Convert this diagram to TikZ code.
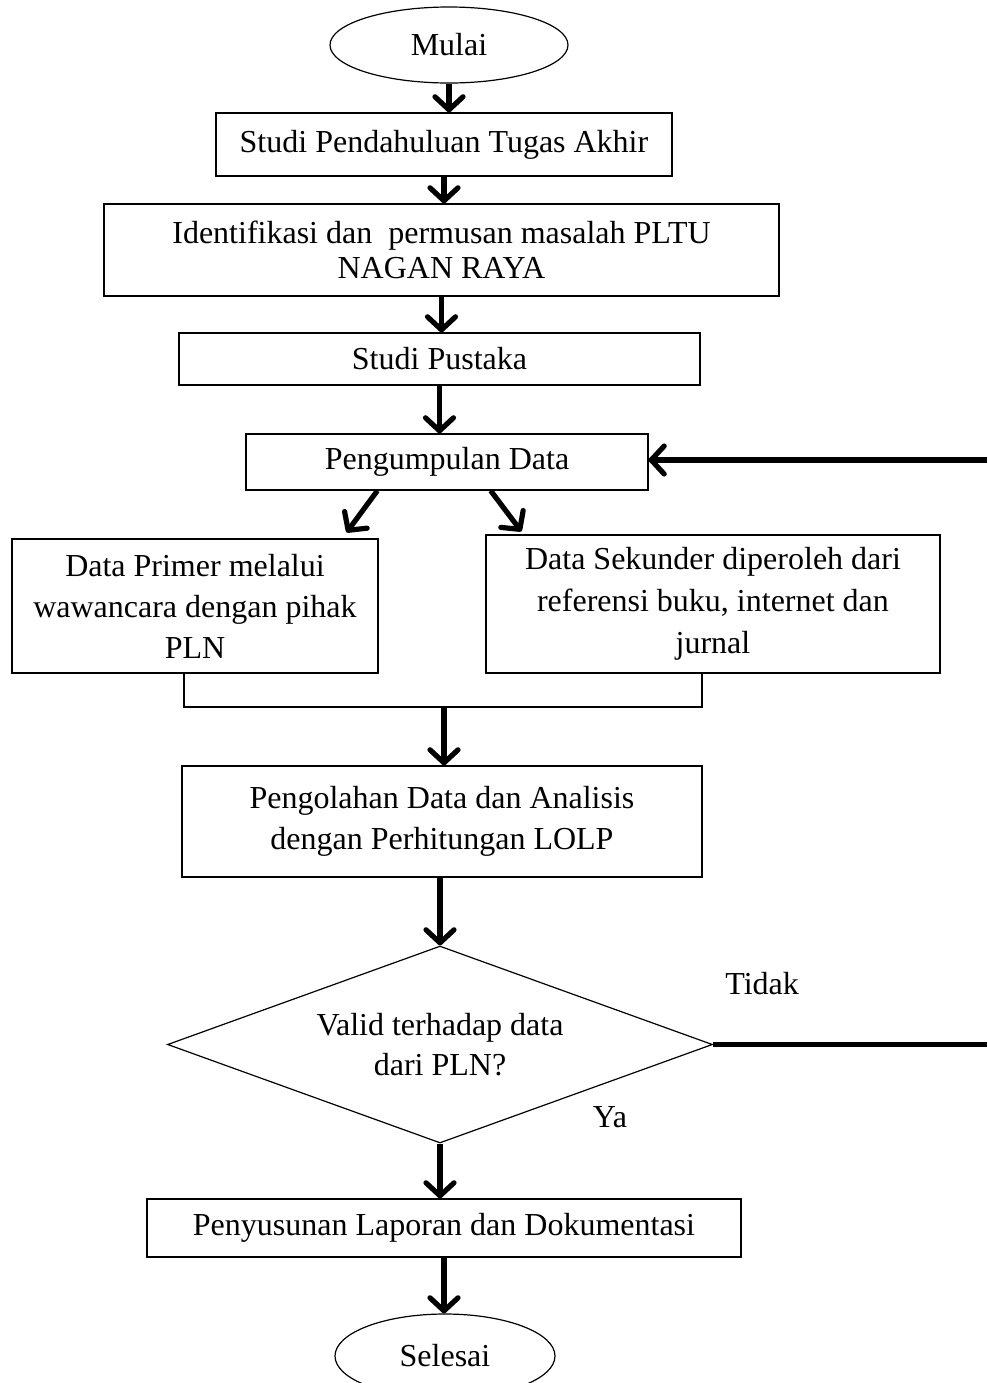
\documentclass[tikz,border=0pt]{standalone}
\usepackage{fontspec}
\setmainfont{Liberation Serif}
\usetikzlibrary{shapes.geometric, arrows.meta}

\begin{document}
\begin{tikzpicture}[x=0.5pt, y=-0.5pt, line width=0.6pt,
  box/.style={rectangle, draw=black, align=center, inner sep=0,
    font=\fontsize{16}{20.5}\selectfont},
  term/.style={ellipse, draw=black, inner sep=0,
    font=\fontsize{16}{20.5}\selectfont},
  cond/.style={diamond, draw=black, align=center, inner sep=0, aspect=2.77,
    font=\fontsize{16}{20}\selectfont},
  arr/.style={-{Straight Barb[length=6.5pt, width=14pt, round]}, line width=2.6pt},
  back/.style={line width=2.6pt},
  lbl/.style={inner sep=0, font=\fontsize{16}{20}\selectfont}]
  \useasboundingbox (0, 0) rectangle (987, 1383);

  \node[term, minimum width=119pt, minimum height=38pt] (start) at (449, 45) {Mulai};

  \node[box, minimum width=228pt, minimum height=31.5pt] (box1) at (444, 144.5)
    {Studi Pendahuluan Tugas Akhir};

  \node[box, minimum width=337.5pt, minimum height=46pt,
    font=\fontsize{16}{17.5}\selectfont] (box2) at (441.5, 250)
    {Identifikasi dan\ \ permusan masalah PLTU\\NAGAN RAYA};

  \node[box, minimum width=260.5pt, minimum height=26pt] (box3) at (439.5, 359)
    {Studi Pustaka};

  \node[box, minimum width=201pt, minimum height=28pt] (box4) at (447, 462)
    {Pengumpulan Data};

  \node[box, minimum width=183pt, minimum height=67pt] (box5) at (195, 606)
    {Data Primer melalui\\wawancara dengan pihak\\PLN};

  \node[box, minimum width=227pt, minimum height=69pt,
    font=\fontsize{16}{21}\selectfont] (box6) at (713, 604)
    {Data Sekunder diperoleh dari\\referensi buku, internet dan\\jurnal};

  \node[box, minimum width=260pt, minimum height=55.5pt] (box7) at (442, 821.5)
    {Pengolahan Data dan Analisis\\dengan Perhitungan LOLP};

  \node[cond, minimum width=272.5pt, minimum height=98.5pt] (if1) at (440, 1044.5)
    {Valid terhadap data\\dari PLN?};

  \node[box, minimum width=297pt, minimum height=29pt] (box8) at (444, 1228)
    {Penyusunan Laporan dan Dokumentasi};

  \node[term, minimum width=110pt, minimum height=42pt] (stop) at (445, 1356) {Selesai};

  \node[lbl] (no) at ([xshift=24.5pt, yshift=30.5pt]if1.east) {Tidak};
  \node[lbl] (yes) at ([xshift=85pt, yshift=13pt]if1.south) {Ya};

  % main flow
  \draw[arr] (start.south) -- (start.south |- box1.north);
  \draw[arr] (box1.south) -- (box2.north -| box1.south);
  \draw[arr] (box2.south) -- (box3.north -| box2.south);
  \draw[arr] (box3.south) -- (box4.north -| box3.south);
  \draw[arr] ([xshift=66pt]box4.south west) -- ([xshift=-16pt, yshift=3pt]box5.north east);
  \draw[arr] ([xshift=-79pt]box4.south east) -- ([xshift=18pt, yshift=1.5pt]box6.north west);

  \coordinate (join) at (444, 707);
  \draw ([xshift=-5.5pt]box5.south) |- (join) -| ([xshift=-5.5pt]box6.south);
  \draw[arr] (join) -- (join |- box7.north);

  \draw[arr] (box7.south -| if1.north) -- (if1.north);
  \draw[arr] (if1.south) -- (if1.south |- box8.north);
  \draw[arr] (box8.south) -- (box8.south |- stop.north);

  % loop back
  \coordinate (edge1) at (987, 1044.5);
  \coordinate (edge2) at (987, 460);
  \draw[back] (if1.east) -- (edge1);
  \draw[arr] (edge2) -- (edge2 -| box4.east);
\end{tikzpicture}
\end{document}
